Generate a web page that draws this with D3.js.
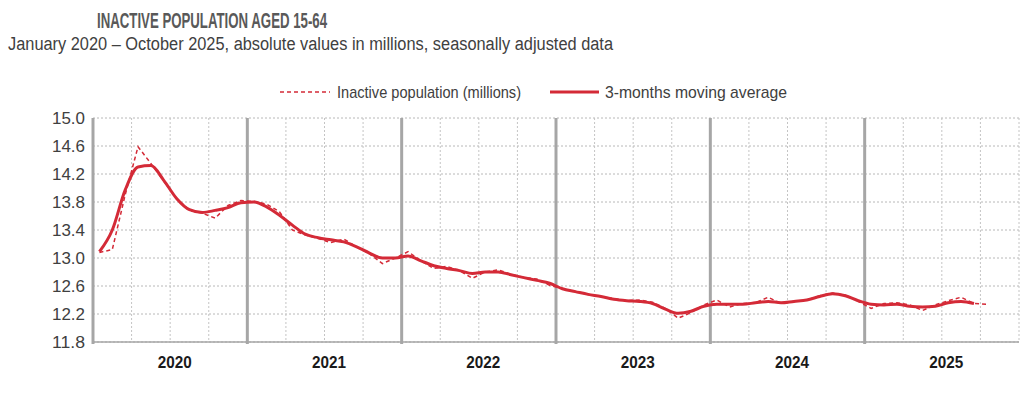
<!DOCTYPE html>
<html>
<head>
<meta charset="utf-8">
<script src="https://cdn.jsdelivr.net/npm/d3@7"></script>
<style>
  body { margin: 0; background: #fff; }
  svg text { font-family: "Liberation Sans Narrow", "Arial Narrow", "Liberation Sans", sans-serif; }
</style>
</head>
<body>
<script>
// monthly values, Jan 2020 .. Oct 2025 (millions)
var inactive = [
  13.08, 13.12, 13.90, 14.59, 14.35, 14.10, 13.85, 13.68, 13.64, 13.57, 13.75, 13.82,
  13.81, 13.77, 13.66, 13.40, 13.33, 13.28, 13.22, 13.27, 13.16, 13.06, 12.92, 13.00,
  13.09, 12.96, 12.85, 12.88, 12.82, 12.71, 12.80, 12.83, 12.77, 12.72, 12.70, 12.61,
  12.56, 12.52, 12.48, 12.45, 12.42, 12.39, 12.40, 12.37, 12.28, 12.14, 12.22, 12.33,
  12.40, 12.30, 12.35, 12.36, 12.44, 12.35, 12.38, 12.40, 12.46, 12.50, 12.47, 12.38,
  12.28, 12.35, 12.36, 12.33, 12.25, 12.33, 12.39, 12.44, 12.35, 12.34
];
var movingAvg = [
  13.09, 13.40, 13.97, 14.30, 14.32, 14.11, 13.85, 13.69, 13.65, 13.68, 13.72, 13.79,
  13.80, 13.73, 13.61, 13.47, 13.34, 13.29, 13.26, 13.23, 13.16, 13.07, 13.00, 13.00,
  13.03, 12.96, 12.89, 12.85, 12.82, 12.78, 12.80, 12.80, 12.76, 12.72, 12.68, 12.64,
  12.56, 12.52, 12.48, 12.45, 12.41, 12.39, 12.38, 12.35, 12.27, 12.21, 12.24, 12.31,
  12.34, 12.34, 12.34, 12.36, 12.38, 12.36, 12.38, 12.40, 12.45, 12.49, 12.46, 12.39,
  12.34, 12.33, 12.34, 12.31, 12.30, 12.31, 12.36, 12.38, 12.35
];
var years = ["2020", "2021", "2022", "2023", "2024", "2025"];
var yTicks = [11.8, 12.2, 12.6, 13.0, 13.4, 13.8, 14.2, 14.6, 15.0];
var seriesNames = ["Inactive population (millions)", "3-months moving average"];

var width = 1035, height = 393;
var margin = {top: 118, right: 16, bottom: 51, left: 93};
var red = "#d42a37";

var svg = d3.select("body").append("svg")
  .attr("width", width)
  .attr("height", height);

var x = d3.scaleLinear()
  .domain([0, years.length * 12])
  .range([margin.left, width - margin.right]);
var y = d3.scaleLinear()
  .domain([11.8, 15.0])
  .range([height - margin.bottom, margin.top]);

// no narrow font available, so squeeze the text to the reference widths
function squeeze(sel, len) {
  sel.attr("textLength", len).attr("lengthAdjust", "spacingAndGlyphs");
}

// titles
svg.append("text")
  .attr("x", 97).attr("y", 28)
  .style("font-size", "22px").style("font-weight", "bold")
  .style("fill", "#595959")
  .text("INACTIVE POPULATION AGED 15-64")
  .call(squeeze, 230);
svg.append("text")
  .attr("x", 8).attr("y", 50)
  .style("font-size", "18px")
  .style("fill", "#404040")
  .text("January 2020 \u2013 October 2025, absolute values in millions, seasonally adjusted data")
  .call(squeeze, 605);

// grid
var grid = svg.append("g");
grid.selectAll(".hgrid")
  .data(yTicks)
  .enter().append("line")
  .attr("x1", x(0)).attr("x2", x(72))
  .attr("y1", function(d) { return y(d); })
  .attr("y2", function(d) { return y(d); })
  .attr("stroke", "#b8b8b8")
  .attr("stroke-width", 1)
  .attr("stroke-dasharray", "2,2");

var quarters = d3.range(3, 72, 3).filter(function(q) { return q % 12 !== 0; });
grid.selectAll(".vgrid")
  .data(quarters.concat([72]))
  .enter().append("line")
  .attr("x1", function(d) { return x(d); })
  .attr("x2", function(d) { return x(d); })
  .attr("y1", y(15.0)).attr("y2", y(11.8))
  .attr("stroke", "#c4c4c4")
  .attr("stroke-width", 1)
  .attr("stroke-dasharray", "2,2");

grid.selectAll(".ygrid")
  .data(d3.range(0, 72, 12))
  .enter().append("line")
  .attr("x1", function(d) { return x(d); })
  .attr("x2", function(d) { return x(d); })
  .attr("y1", y(15.0)).attr("y2", y(11.8) + 2)
  .attr("stroke", "#a6a6a6")
  .attr("stroke-width", 3);

// bottom axis line
svg.append("line")
  .attr("x1", x(0)).attr("x2", x(72))
  .attr("y1", y(11.8)).attr("y2", y(11.8))
  .attr("stroke", "#a6a6a6").attr("stroke-width", 1.5);

// y axis labels
var yAxis = d3.axisLeft(y)
  .tickValues(yTicks)
  .tickFormat(d3.format(".1f"))
  .tickSize(0)
  .tickPadding(8);
var yg = svg.append("g")
  .attr("transform", "translate(" + margin.left + ",0)")
  .call(yAxis);
yg.select(".domain").remove();
yg.selectAll("text")
  .style("font-size", "17px")
  .style("fill", "#404040")
  .style("font-family", "'Liberation Sans Narrow', 'Arial Narrow', 'Liberation Sans', sans-serif")
  .call(squeeze, 33);

// year labels
var xAxis = d3.axisBottom(x)
  .tickValues(d3.range(0, 72, 12).map(function(d) { return d + 6; }))
  .tickFormat(function(d) { return years[(d - 6) / 12]; })
  .tickSize(0)
  .tickPadding(14);
var xg = svg.append("g")
  .attr("transform", "translate(4," + y(11.8) + ")")
  .call(xAxis);
xg.select(".domain").remove();
xg.selectAll("text")
  .style("font-size", "17px")
  .style("font-weight", "bold")
  .style("fill", "#1a1a1a")
  .style("font-family", "'Liberation Sans Narrow', 'Arial Narrow', 'Liberation Sans', sans-serif")
  .call(squeeze, 34);

// lines
var line = d3.line()
  .x(function(d, i) { return x(i + 0.5); })
  .y(function(d) { return y(d); });

svg.append("path")
  .datum(inactive)
  .attr("d", line)
  .attr("fill", "none")
  .attr("stroke", red)
  .attr("stroke-width", 1.5)
  .attr("stroke-dasharray", "4,3");

svg.append("path")
  .datum(movingAvg)
  .attr("d", line.curve(d3.curveMonotoneX))
  .attr("fill", "none")
  .attr("stroke", red)
  .attr("stroke-width", 3)
  .attr("stroke-linejoin", "round");

// legend
var legend = svg.append("g");
legend.append("line")
  .attr("x1", 280).attr("x2", 330).attr("y1", 92).attr("y2", 92)
  .attr("stroke", red).attr("stroke-width", 1.5).attr("stroke-dasharray", "4,3");
legend.append("text")
  .attr("x", 337).attr("y", 98)
  .style("font-size", "17px").style("fill", "#404040")
  .text(seriesNames[0])
  .call(squeeze, 184);
legend.append("line")
  .attr("x1", 550).attr("x2", 599).attr("y1", 92).attr("y2", 92)
  .attr("stroke", red).attr("stroke-width", 3);
legend.append("text")
  .attr("x", 605).attr("y", 98)
  .style("font-size", "17px").style("fill", "#404040")
  .text(seriesNames[1])
  .call(squeeze, 182);
</script>
</body>
</html>
